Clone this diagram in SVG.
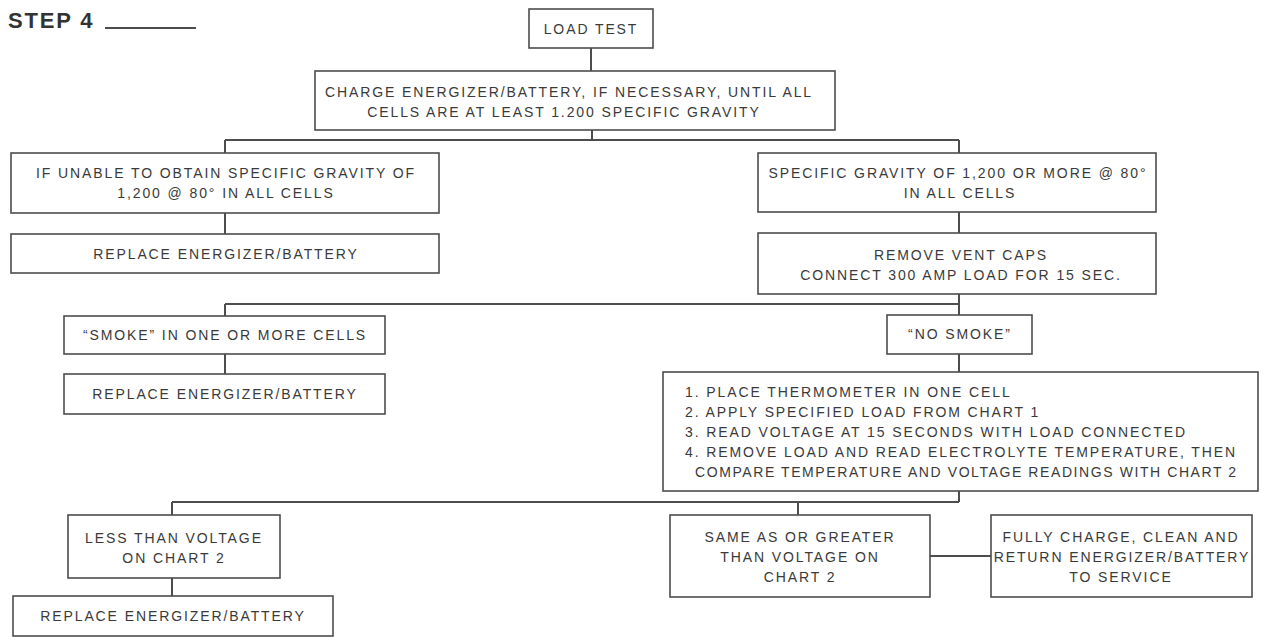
<svg xmlns="http://www.w3.org/2000/svg" width="1265" height="637" viewBox="0 0 1265 637">
<style>
.bg{fill:#ffffff}
.box{fill:#ffffff;stroke:#4d4d4d;stroke-width:1.6}
.conn{fill:none;stroke:#4d4d4d;stroke-width:2}
.t{font-family:"Liberation Sans",Arial,sans-serif;font-size:14px;letter-spacing:1.9px;fill:#3a3a3a;text-anchor:middle}
.tl{text-anchor:start}
.title{font-family:"Liberation Sans",Arial,sans-serif;font-size:22px;font-weight:bold;letter-spacing:1.5px;fill:#333333}
</style>
<rect class="bg" x="0" y="0" width="1265" height="637"/>
<g id="title">
<text class="title" x="8" y="28" textLength="86" lengthAdjust="spacing">STEP 4</text>
<path class="conn" d="M105 28 H196" stroke-width="1.5"/>
</g>
<g id="connectors">
<path class="conn" d="M591 48 V71"/>
<path class="conn" d="M592 130 V140"/>
<path class="conn" d="M225 140 H959"/>
<path class="conn" d="M225 140 V153"/>
<path class="conn" d="M959 140 V153"/>
<path class="conn" d="M225 213 V234"/>
<path class="conn" d="M959 212 V233"/>
<path class="conn" d="M959 294 V315"/>
<path class="conn" d="M225 304 H959"/>
<path class="conn" d="M225 304 V316"/>
<path class="conn" d="M225 354 V374"/>
<path class="conn" d="M959 354 V372"/>
<path class="conn" d="M959 491 V502"/>
<path class="conn" d="M172 502 H959"/>
<path class="conn" d="M172 502 V515"/>
<path class="conn" d="M798 502 V515"/>
<path class="conn" d="M172 578 V596"/>
<path class="conn" d="M930 556 H991"/>
</g>
<g id="load-test">
<rect class="box" x="529" y="9" width="124" height="39"/>
<text class="t" x="591" y="34">LOAD TEST</text>
</g>
<g id="charge">
<rect class="box" x="315" y="71" width="520" height="59"/>
<text class="t" x="569" y="97">CHARGE ENERGIZER/BATTERY, IF NECESSARY, UNTIL ALL</text>
<text class="t" x="564" y="117">CELLS ARE AT LEAST 1.200 SPECIFIC GRAVITY</text>
</g>
<g id="unable">
<rect class="box" x="11" y="153" width="428" height="60"/>
<text class="t" x="226" y="178">IF UNABLE TO OBTAIN SPECIFIC GRAVITY OF</text>
<text class="t" x="226" y="198">1,200 @ 80° IN ALL CELLS</text>
</g>
<g id="replace-1">
<rect class="box" x="11" y="234" width="428" height="39"/>
<text class="t" x="226" y="259">REPLACE ENERGIZER/BATTERY</text>
</g>
<g id="specific">
<rect class="box" x="758" y="153" width="398" height="59"/>
<text class="t" x="958" y="178">SPECIFIC GRAVITY OF 1,200 OR MORE @ 80°</text>
<text class="t" x="960" y="198">IN ALL CELLS</text>
</g>
<g id="remove-vent">
<rect class="box" x="758" y="233" width="398" height="61"/>
<text class="t" x="961" y="260">REMOVE VENT CAPS</text>
<text class="t" x="961" y="280">CONNECT 300 AMP LOAD FOR 15 SEC.</text>
</g>
<g id="smoke">
<rect class="box" x="64" y="316" width="321" height="38"/>
<text class="t" x="225" y="340">“SMOKE” IN ONE OR MORE CELLS</text>
</g>
<g id="replace-2">
<rect class="box" x="64" y="374" width="321" height="40"/>
<text class="t" x="225" y="399">REPLACE ENERGIZER/BATTERY</text>
</g>
<g id="no-smoke">
<rect class="box" x="887" y="315" width="145" height="39"/>
<text class="t" x="960" y="339">“NO SMOKE”</text>
</g>
<g id="steps">
<rect class="box" x="663" y="372" width="595" height="119"/>
<text class="t tl" x="685" y="397">1. PLACE THERMOMETER IN ONE CELL</text>
<text class="t tl" x="685" y="417">2. APPLY SPECIFIED LOAD FROM CHART 1</text>
<text class="t tl" x="685" y="437">3. READ VOLTAGE AT 15 SECONDS WITH LOAD CONNECTED</text>
<text class="t tl" x="685" y="457" textLength="552" lengthAdjust="spacing">4. REMOVE LOAD AND READ ELECTROLYTE TEMPERATURE, THEN</text>
<text class="t tl" x="695" y="477" textLength="543" lengthAdjust="spacing">COMPARE TEMPERATURE AND VOLTAGE READINGS WITH CHART 2</text>
</g>
<g id="less-than">
<rect class="box" x="68" y="515" width="212" height="63"/>
<text class="t" x="174" y="543">LESS THAN VOLTAGE</text>
<text class="t" x="174" y="563">ON CHART 2</text>
</g>
<g id="replace-3">
<rect class="box" x="13" y="596" width="320" height="40"/>
<text class="t" x="173" y="621">REPLACE ENERGIZER/BATTERY</text>
</g>
<g id="same-or-greater">
<rect class="box" x="670" y="515" width="260" height="82"/>
<text class="t" x="800" y="542">SAME AS OR GREATER</text>
<text class="t" x="800" y="562">THAN VOLTAGE ON</text>
<text class="t" x="800" y="582">CHART 2</text>
</g>
<g id="fully-charge">
<rect class="box" x="991" y="515" width="261" height="82"/>
<text class="t" x="1121" y="542">FULLY CHARGE, CLEAN AND</text>
<text class="t" x="1122" y="562">RETURN ENERGIZER/BATTERY</text>
<text class="t" x="1121" y="582">TO SERVICE</text>
</g>
</svg>
